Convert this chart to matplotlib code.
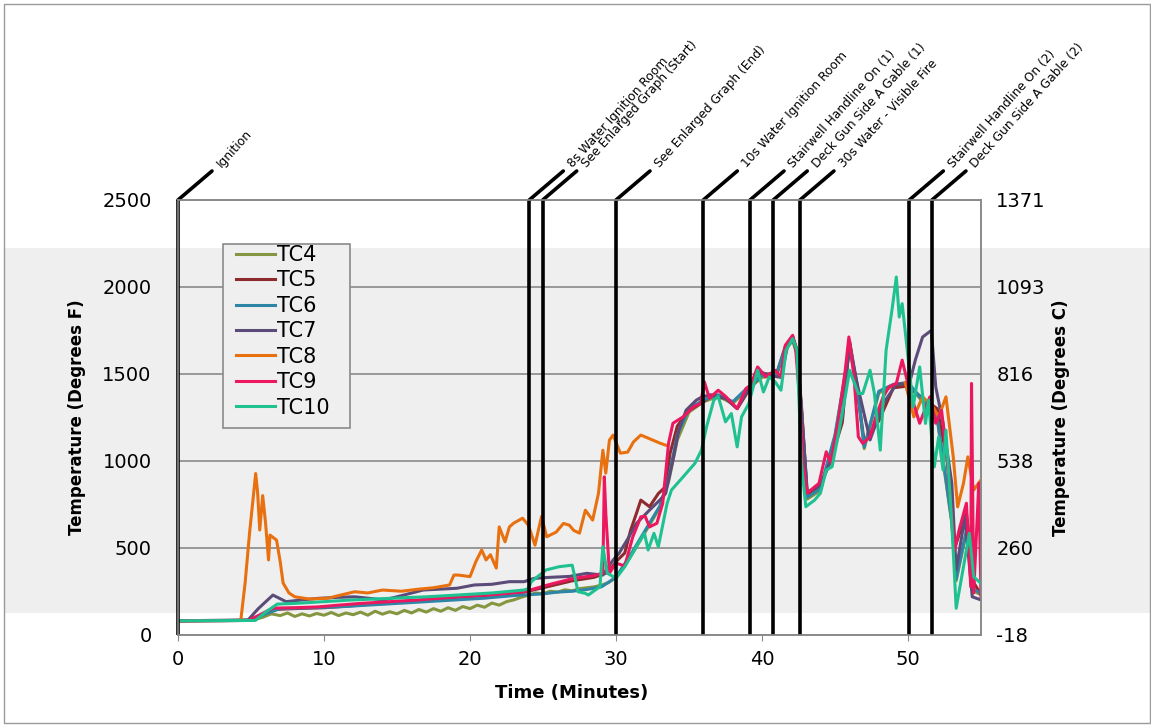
import matplotlib
matplotlib.use('Agg')
import numpy as np
import matplotlib.pyplot as plt
from matplotlib.patches import Rectangle

plt.rcParams['font.family'] = ['DejaVu Sans']

# thermocouple readings (minutes, degrees F)
tc4_t = [0, 5.0, 5.8, 6.4, 7.0, 7.5, 8.0, 8.5, 9.0, 9.5, 10.0, 10.5, 11.0, 11.5, 12.0, 12.5,
         13.0, 13.5, 14.0, 14.5, 15.0, 15.5, 16.0, 16.5, 17.0, 17.5, 18.0, 18.5, 19.0, 19.5,
         20.0, 20.5, 21.0, 21.5, 22.0, 22.5, 23.0, 23.5, 24.0, 24.5, 25.0, 25.5, 26.0, 26.5,
         27.0, 27.5, 28.0, 28.5, 29.0, 29.5, 30.0, 31.0, 32.0, 33.0, 33.6, 34.2, 35.0, 36.0,
         37.0, 38.0, 39.0, 40.0, 41.0, 41.6, 42.1, 42.4, 42.7, 43.1, 44.0, 45.0, 46.0, 46.5,
         47.0, 48.0, 49.0, 50.0, 51.0, 52.0, 53.0, 53.3, 54.0, 54.5, 55.0]
tc4_v = [80, 82, 100, 120, 110, 125, 105, 120, 108, 122, 112, 128, 110, 125, 115, 130,
         112, 135, 118, 132, 120, 140, 125, 145, 130, 150, 135, 155, 140, 162,
         150, 170, 158, 182, 170, 190, 200, 215, 228, 240, 235, 250, 245, 258,
         252, 265, 270, 275, 285, 300, 330, 450, 590, 730, 880, 1120, 1280, 1340,
         1370, 1330, 1410, 1480, 1490, 1640, 1690, 1610, 1290, 780, 830, 1140, 1640, 1440,
         1070, 1390, 1430, 1440, 1340, 1240, 640, 310, 590, 250, 230]

tc5_t = [0, 4.8, 5.5, 6.5, 8.0, 10.0, 12.5, 14.5, 17.0, 19.1, 21.5, 23.7, 25.5, 27.0, 28.5,
         29.5, 30.0, 30.6, 31.0, 31.4, 31.7, 32.3, 32.9, 33.4, 33.7, 34.2, 35.0, 35.8, 36.5,
         37.5, 38.3, 39.2, 40.0, 41.0, 41.6, 42.1, 42.4, 42.7, 43.1, 44.0, 44.7, 45.5, 46.0,
         46.5, 47.0, 48.0, 49.0, 50.0, 51.0, 52.0, 52.7, 53.2, 54.0, 54.5, 55.0]
tc5_v = [80, 82, 105, 145, 150, 155, 170, 185, 200, 215, 228, 245, 280, 310, 330,
         360, 420, 470, 600, 698, 774, 736, 812, 851, 1042, 1200, 1290, 1330, 1370,
         1360, 1300, 1420, 1500, 1500, 1660, 1715, 1640, 1320, 800, 860, 1000, 1220, 1690,
         1420, 1110, 1230, 1420, 1430, 1360, 1300, 1000, 500, 700, 300, 230]

tc6_t = [0, 5.0, 6.0, 7.0, 9.0, 11.0, 13.0, 15.0, 17.0, 19.0, 21.0, 23.0, 24.0, 25.0, 26.0,
         27.0, 28.0, 29.0, 30.0, 31.0, 32.0, 33.0, 33.6, 34.2, 35.0, 36.0, 37.0, 38.0, 39.0,
         40.0, 41.0, 41.6, 42.1, 42.4, 42.7, 43.1, 44.0, 45.0, 46.0, 46.5, 47.0, 48.0, 49.0,
         50.0, 51.0, 52.0, 53.0, 53.3, 54.0, 54.5, 55.0]
tc6_v = [80, 82, 120, 150, 155, 160, 170, 180, 190, 200, 210, 225, 230, 235, 245,
         250, 260, 275, 330, 460, 600, 740, 900, 1150, 1300, 1350, 1380, 1340, 1420,
         1490, 1500, 1650, 1700, 1620, 1300, 790, 840, 1150, 1650, 1450, 1080, 1400, 1440,
         1450, 1350, 1250, 650, 320, 600, 260, 240]

tc7_t = [0, 4.8, 5.5, 6.5, 7.4, 8.5, 9.6, 11.0, 12.1, 13.0, 14.1, 15.0, 16.8, 19.1, 20.3,
         21.5, 22.7, 23.7, 24.4, 25.5, 26.8, 28.0, 29.1, 29.8, 30.2, 30.8, 31.4, 32.3, 33.0,
         33.4, 33.9, 34.3, 34.8, 35.5, 35.9, 36.5, 37.5, 38.3, 39.0, 39.7, 40.5, 41.3, 41.8,
         42.1, 42.4, 42.7, 43.1, 44.0, 44.7, 45.5, 46.0, 46.5, 47.4, 48.3, 49.2, 50.1, 50.5,
         51.0, 51.6, 51.9, 52.4, 53.0, 53.3, 53.9, 54.4, 55.0]
tc7_v = [80, 85, 150, 228, 190, 200, 209, 215, 218, 210, 200, 218, 257, 267, 286,
         290, 305, 305, 324, 330, 335, 353, 343, 429, 467, 550, 640, 717, 774,
         812, 1004, 1176, 1291, 1349, 1368, 1380, 1360, 1300, 1400, 1520, 1490, 1480, 1680,
         1710, 1620, 1300, 820, 860, 1000, 1250, 1680, 1450, 1120, 1330, 1440, 1445, 1579,
         1712, 1750, 1425, 1216, 871, 372, 678, 218, 200]

tc8_t = [0, 4.3, 4.6, 4.9, 5.32, 5.45, 5.6, 5.8, 6.0, 6.2, 6.3, 6.75, 7.0, 7.2, 7.6, 8.0,
         9.0, 10.3, 11.0, 12.1, 13.0, 14.0, 15.3, 16.5, 17.5, 18.6, 18.9, 19.2, 20.0, 20.4,
         20.8, 21.1, 21.4, 21.8, 22.0, 22.4, 22.7, 23.0, 23.6, 24.0, 24.45, 24.9, 25.25, 25.9,
         26.4, 26.8, 27.1, 27.5, 27.9, 28.4, 28.8, 29.1, 29.3, 29.55, 29.8, 30.3, 30.8, 31.2,
         31.7, 32.3, 33.0, 33.4, 33.5,
         49.8, 50.4, 51.0, 51.7, 52.1, 52.6, 53.1, 53.4, 53.8, 54.1, 54.5, 55.0]
tc8_v = [80, 82, 300, 584, 927, 822, 602, 800, 640, 430, 573, 544, 420, 297, 240, 218,
         205, 210, 225, 247, 240, 257, 250, 262, 270, 286, 343, 343, 334, 420,
         487, 430, 460, 383, 620, 534, 620, 642, 670, 630, 515, 680, 563, 590,
         640, 630, 600, 584, 716, 659, 813, 1061, 929, 1119, 1148, 1044, 1050, 1109,
         1148, 1127, 1102, 1090, np.nan,
         1450, 1253, 1368, 1310, 1253, 1368, 1023, 735, 871, 1023, 832, 890]

tc9_t = [0, 4.8, 5.5, 6.5, 8.0, 9.6, 11.0, 12.5, 14.5, 16.5, 19.1, 21.5, 23.7, 25.5, 27.1,
         28.5, 29.1, 29.2, 29.3, 29.55, 30.0, 30.6, 31.15, 31.7, 32.0, 32.3, 32.8, 33.2, 33.6,
         33.9, 34.6, 35.3, 35.8, 36.05, 36.4, 37.0, 37.5, 38.3, 38.9, 39.2, 39.7, 40.25, 40.9,
         41.3, 41.6, 42.1, 42.3, 42.6, 42.8, 43.1, 43.6, 43.9, 44.4, 44.7, 45.2, 45.7, 45.95,
         46.3, 46.6, 46.9, 47.4, 47.8, 48.3, 48.7, 49.2, 49.6, 50.1, 50.8, 51.5, 51.9, 52.3,
         52.7, 53.2, 53.5, 54.0, 54.3, 54.35, 54.5, 54.85, 55.0]
tc9_v = [80, 82, 110, 153, 155, 160, 170, 180, 190, 200, 218, 230, 247, 290, 324,
         340, 354, 908, 700, 354, 412, 395, 563, 678, 680, 620, 641, 756, 1102,
         1216, 1253, 1310, 1330, 1454, 1360, 1406, 1371, 1301, 1416, 1431, 1540, 1483, 1521,
         1483, 1665, 1722, 1650, 1331, 986, 814, 850, 870, 1052, 990, 1216, 1521, 1712,
         1483, 1138, 1100, 1138, 1253, 1368, 1425, 1445, 1579, 1406, 1216, 1368, 1216, 1290,
         986, 487, 602, 756, 276, 1445, 240, 871, 220]

tc10_t = [0, 5.3, 6.0, 6.8, 8.0, 10.0, 12.0, 14.5, 17.0, 19.1, 21.5, 23.7, 24.0, 24.2, 25.2,
          26.1, 27.0, 27.4, 27.9, 28.1, 28.9, 29.1, 29.4, 30.0, 30.6, 31.4, 31.95, 32.2, 32.6,
          32.9, 33.5, 33.8, 34.6, 35.4, 35.85, 36.2, 36.7, 37.0, 37.5, 37.9, 38.3, 38.6, 39.1,
          39.7, 40.1, 40.5, 40.9, 41.3, 41.65, 42.1, 42.4, 42.7, 43.0, 43.6, 44.0, 44.4, 44.8,
          45.2, 45.7, 46.0, 46.6, 46.9, 47.4, 47.7, 48.1, 48.5, 48.9, 49.2, 49.4, 49.6, 50.0,
          50.35, 50.8, 51.2, 51.4, 51.8, 52.1, 52.4, 52.6, 53.0, 53.3, 53.8, 54.2, 54.5, 55.0]
tc10_v = [80, 82, 130, 176, 180, 190, 200, 209, 218, 228, 240, 257, 265, 305, 372,
          391, 400, 247, 238, 228, 276, 506, 354, 324, 391, 506, 583, 487, 583,
          506, 755, 832, 908, 985, 1061, 1195, 1349, 1371, 1224, 1272, 1080, 1253, 1330,
          1521, 1396, 1483, 1454, 1406, 1636, 1703, 1636, 985, 736, 774, 814, 947, 966,
          1138, 1368, 1521, 1387, 1387, 1521, 1387, 1061, 1636, 1866, 2057, 1827, 1904, 1598,
          1310, 1540, 1215, 1349, 965, 1138, 947, 1176, 640, 152, 391, 583, 333, 295]

series = [
    ('TC4', tc4_t, tc4_v, '#84963f'),
    ('TC5', tc5_t, tc5_v, '#8e2a2e'),
    ('TC6', tc6_t, tc6_v, '#2d86a6'),
    ('TC7', tc7_t, tc7_v, '#5a4b78'),
    ('TC8', tc8_t, tc8_v, '#e8700f'),
    ('TC9', tc9_t, tc9_v, '#ec175f'),
    ('TC10', tc10_t, tc10_v, '#1fc190'),
]

# event markers
event_times = [0, 24.06, 24.98, 30.0, 35.98, 39.18, 40.77, 42.6, 50.09, 51.64]
event_labels = ['Ignition', '8s Water Ignition Room', 'See Enlarged Graph (Start)',
                'See Enlarged Graph (End)', '10s Water Ignition Room',
                'Stairwell Handline On (1)', 'Deck Gun Side A Gable (1)',
                '30s Water - Visible Fire', 'Stairwell Handline On (2)',
                'Deck Gun Side A Gable (2)']

f_ticks = [0, 500, 1000, 1500, 2000, 2500]
c_labels = ['-18', '260', '538', '816', '1093', '1371']

W, H = 1151, 727
fig = plt.figure(figsize=(W / 100, H / 100), dpi=100)

# scanned-page grey band and frame
fig.patches.append(Rectangle((4 / W, (H - 612.7) / H), 1146 / W, 364.7 / H,
                             transform=fig.transFigure, facecolor='#efefef',
                             edgecolor='none', zorder=-2))
fig.patches.append(Rectangle((4 / W, 4 / H), 1146 / W, (H - 8) / H,
                             transform=fig.transFigure, facecolor='none',
                             edgecolor='#9a9a9a', lw=1, zorder=-1))

ax = fig.add_axes([178 / W, (H - 634.7) / H, 803 / W, 434.7 / H])
ax.patch.set_visible(False)

for name, t, v, c in series:
    ax.plot(t, v, color=c, lw=2.2, label=name, zorder=3)

ax.set_xlim(0, 55)
ax.set_ylim(0, 2500)
ax.set_xticks([0, 10, 20, 30, 40, 50])
ax.set_yticks(f_ticks)
ax.yaxis.grid(True, color='#8a8a8a', lw=1.2)
ax.set_axisbelow(True)
for s in ax.spines.values():
    s.set_color('#8a8a8a')
    s.set_linewidth(1.2)
ax.tick_params(axis='x', length=4, color='#8a8a8a', labelsize=14, pad=7)
ax.tick_params(axis='y', length=0, labelsize=14, pad=19)

ax.set_xlabel('Time (Minutes)', fontsize=13, fontweight='bold')
ax.xaxis.set_label_coords(0.49, -0.113)
ax.set_ylabel('Temperature (Degrees F)', fontsize=12, fontweight='bold')
ax.yaxis.set_label_coords(-0.115, 0.5)

ax2 = ax.twinx()
ax2.patch.set_visible(False)
ax2.set_ylim(0, 2500)
ax2.set_yticks(f_ticks)
ax2.set_yticklabels(c_labels)
ax2.tick_params(axis='y', length=0, labelsize=14, pad=11)
for s in ax2.spines.values():
    s.set_color('#8a8a8a')
    s.set_linewidth(1.2)
ax2.set_ylabel('Temperature (Degrees C)', fontsize=12, fontweight='bold')
ax2.yaxis.set_label_coords(1.088, 0.5)

for t, lab in zip(event_times, event_labels):
    ax.plot([t, t], [0, 2500], color='black', lw=2.6, solid_capstyle='butt',
            clip_on=False, zorder=6)
    ax.annotate('', xy=(t, 2500), xytext=(34, 29), textcoords='offset pixels',
                arrowprops=dict(arrowstyle='-', lw=2.6, color='black',
                                shrinkA=0, shrinkB=0), annotation_clip=False)
    ax.annotate(lab, xy=(t, 2500), xytext=(41, 34), textcoords='offset pixels',
                rotation=48, rotation_mode='anchor', ha='left', va='center',
                fontsize=8.8, annotation_clip=False)

# legend box (opaque, hides the grid lines behind it)
ax.add_patch(Rectangle((223 / W, (H - 428) / H), 127 / W, 184 / H,
                       transform=fig.transFigure, facecolor='#efefef',
                       edgecolor='#8a8a8a', lw=1.2, zorder=4, clip_on=False))
leg = ax.legend(loc='upper left', bbox_to_anchor=(236 / W, (H - 245) / H),
                bbox_transform=fig.transFigure, borderaxespad=0, borderpad=0,
                fontsize=15, frameon=False, handlelength=1.85, handletextpad=0.1,
                labelspacing=0.26)
leg.set_zorder(7)

fig.savefig('out.png', dpi=100)
